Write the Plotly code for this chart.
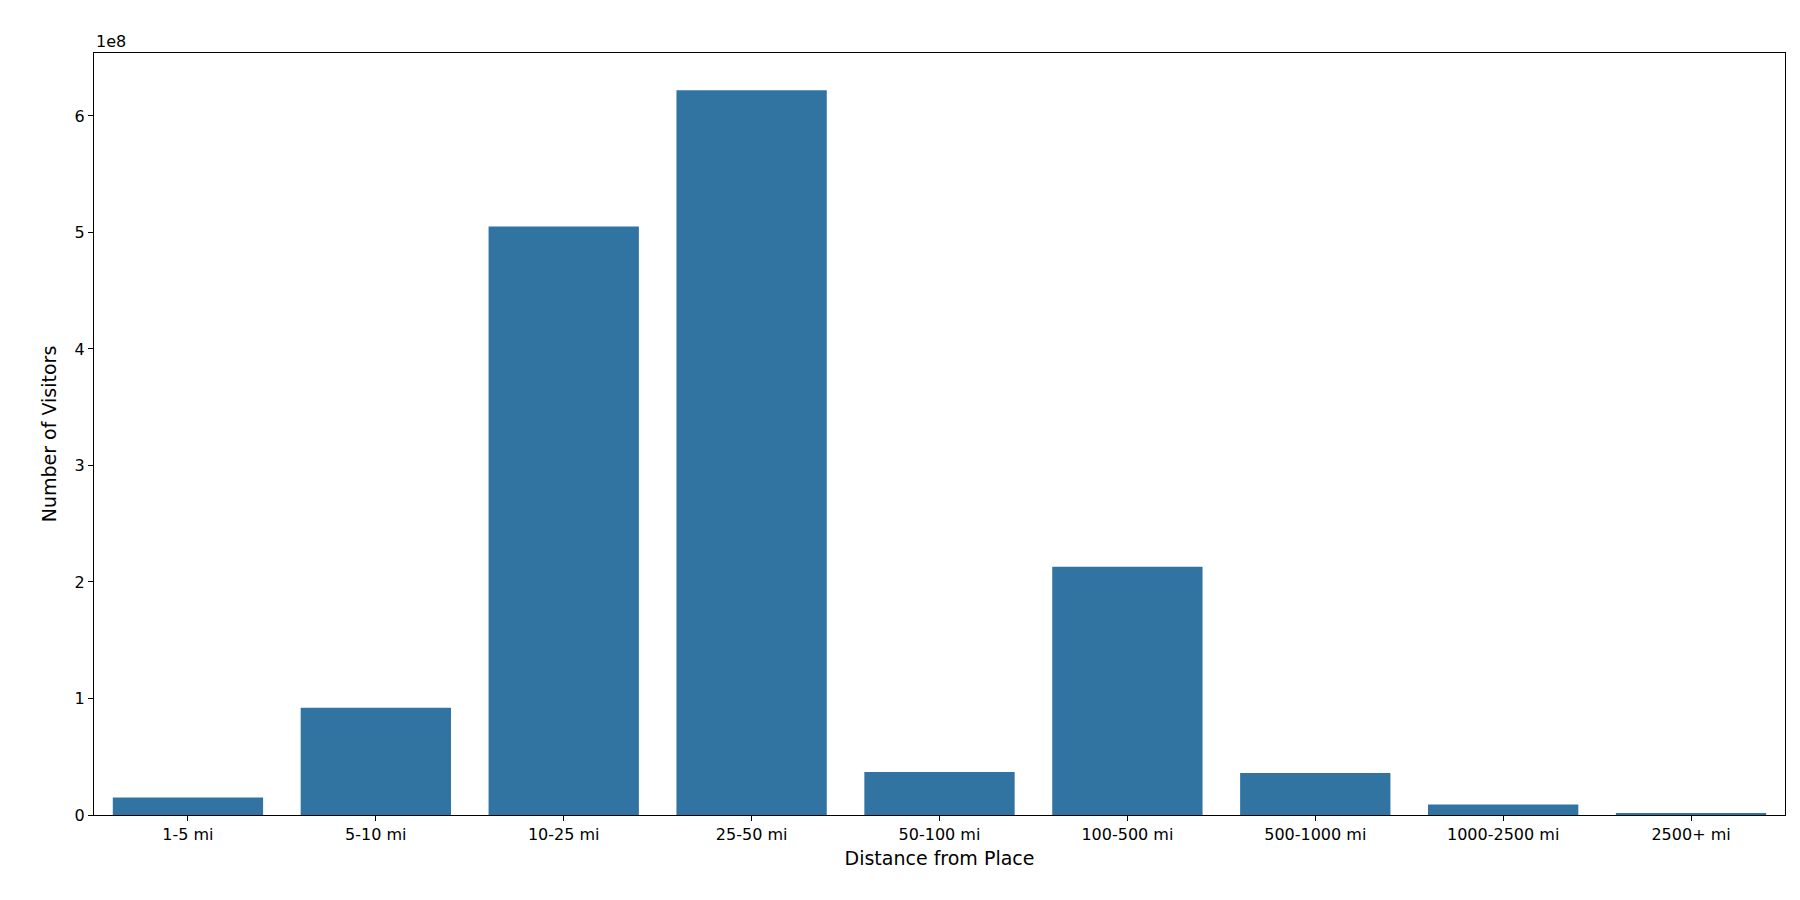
import plotly.graph_objects as go

# distance bins and visitor counts
distances = ['1-5 mi', '5-10 mi', '10-25 mi', '25-50 mi', '50-100 mi',
             '100-500 mi', '500-1000 mi', '1000-2500 mi', '2500+ mi']
visitors = [1.5e7, 9.2e7, 5.05e8, 6.22e8, 3.7e7, 2.13e8, 3.6e7, 9e6, 1.5e6]
ytick_vals = [0, 1e8, 2e8, 3e8, 4e8, 5e8, 6e8]
ytick_text = ['0', '1', '2', '3', '4', '5', '6']

fig = go.Figure(go.Bar(x=distances, y=visitors, marker_color='#3274a1',
                       marker_line_width=0, width=0.8))

axis_style = dict(showline=True, linecolor='black', linewidth=1, mirror=True,
                  ticks='outside', ticklen=5, tickcolor='black', showgrid=False,
                  zeroline=False, tickfont=dict(size=16, color='black'))

fig.update_layout(
    width=1800, height=900,
    plot_bgcolor='white', paper_bgcolor='white',
    font=dict(family='DejaVu Sans', color='black'),
    margin=dict(l=86, r=23, t=45, b=93),
    showlegend=False,
    bargap=0.2,
    xaxis=dict(title=dict(text='Distance from Place', font=dict(size=19), standoff=8),
               range=[-0.5, 8.5], **axis_style),
    yaxis=dict(title=dict(text='Number of Visitors', font=dict(size=19), standoff=12),
               range=[0, 6.54e8], tickvals=ytick_vals, ticktext=ytick_text, **axis_style),
    annotations=[dict(text='1e8', xref='paper', yref='paper', x=0, y=1,
                      xanchor='left', yanchor='bottom', showarrow=False,
                      font=dict(size=16, color='black'))],
)

fig.write_html('out.html')
